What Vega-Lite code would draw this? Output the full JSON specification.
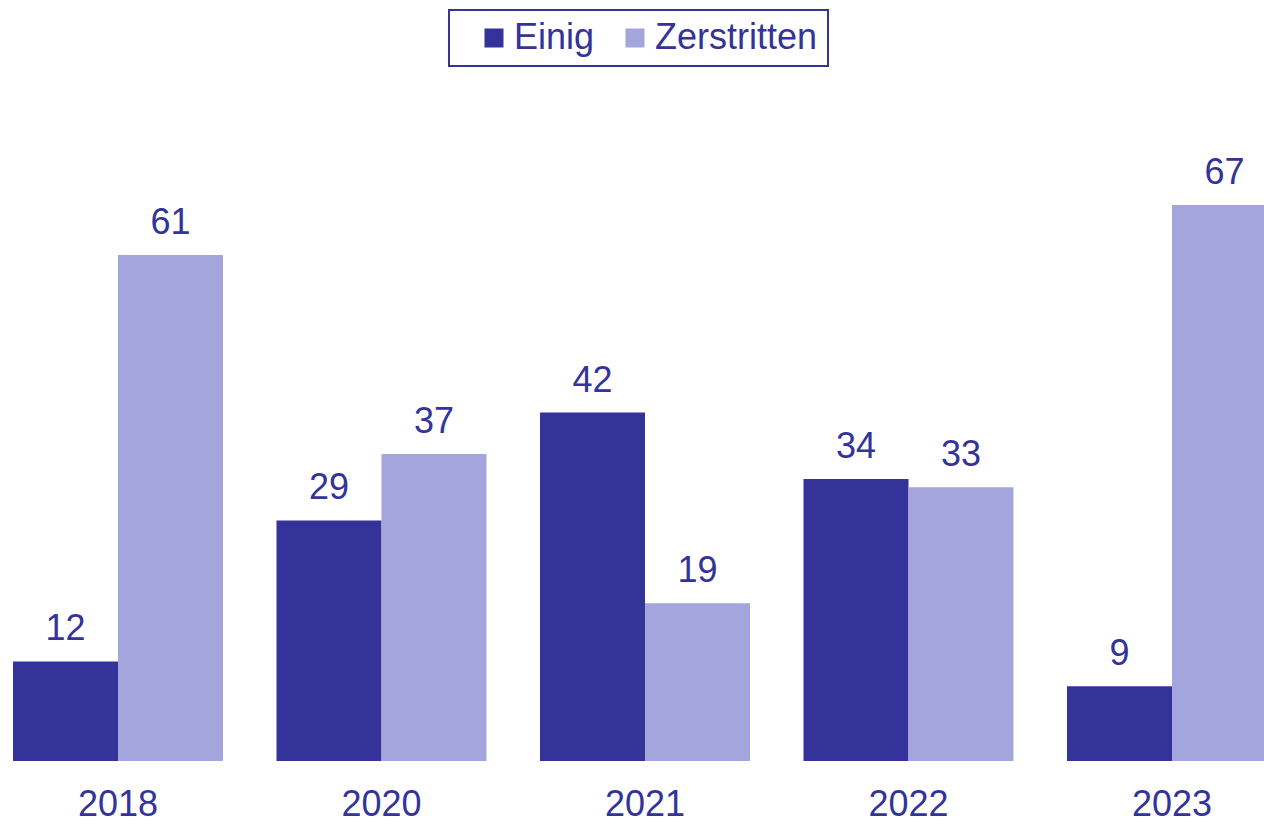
{
  "$schema": "https://vega.github.io/schema/vega-lite/v6.json",
  "width": 1290,
  "height": 761,
  "autosize": {"type": "none"},
  "padding": {"left": 0, "top": 0, "right": 0, "bottom": 60},
  "background": "white",
  "config": {
    "view": {"stroke": null},
    "font": "Liberation Sans",
    "legend": {"strokeWidth": 2}
  },
  "data": {
    "values": [
      {"year": "2018", "series": "Einig", "value": 12},
      {"year": "2018", "series": "Zerstritten", "value": 61},
      {"year": "2020", "series": "Einig", "value": 29},
      {"year": "2020", "series": "Zerstritten", "value": 37},
      {"year": "2021", "series": "Einig", "value": 42},
      {"year": "2021", "series": "Zerstritten", "value": 19},
      {"year": "2022", "series": "Einig", "value": 34},
      {"year": "2022", "series": "Zerstritten", "value": 33},
      {"year": "2023", "series": "Einig", "value": 9},
      {"year": "2023", "series": "Zerstritten", "value": 67}
    ]
  },
  "encoding": {
    "x": {
      "field": "year", "type": "nominal",
      "scale": {"paddingInner": 0.203, "paddingOuter": 0.0493},
      "axis": {
        "title": null, "labelAngle": 0, "ticks": false, "domain": false,
        "labelFontSize": 36, "labelColor": "#333399", "labelPadding": 26,
        "labelFont": "Liberation Sans"
      }
    },
    "xOffset": {"field": "series", "type": "nominal", "scale": {"paddingInner": 0, "paddingOuter": 0}},
    "y": {
      "field": "value", "type": "quantitative",
      "scale": {"domain": [0, 91.72], "nice": false, "zero": true},
      "axis": null
    }
  },
  "layer": [
    {
      "mark": {"type": "bar"},
      "encoding": {
        "color": {
          "field": "series", "type": "nominal",
          "scale": {"domain": ["Einig", "Zerstritten"], "range": ["#333399", "#A5A5DE"]},
          "legend": {
            "title": null,
            "orient": "none",
            "legendX": 449,
            "legendY": 10,
            "direction": "horizontal",
            "strokeColor": "#333399",
            "padding": 10,
            "symbolType": "square",
            "symbolSize": 361,
            "symbolStrokeWidth": 0,
            "symbolOffset": 17,
            "labelFontSize": 36,
            "labelColor": "#333399",
            "labelFont": "Liberation Sans",
            "labelOffset": 2,
            "labelLimit": 500,
            "labelExpr": "datum.label == 'Zerstritten' ? datum.label + '\u00a0\u200a' : datum.label",
            "columnPadding": 5,
            "fillColor": "white"
          }
        }
      }
    },
    {
      "mark": {"type": "text", "dy": -21, "baseline": "alphabetic", "fontSize": 36, "color": "#333399", "font": "Liberation Sans"},
      "encoding": {
        "text": {"field": "value", "type": "quantitative"}
      }
    }
  ]
}
